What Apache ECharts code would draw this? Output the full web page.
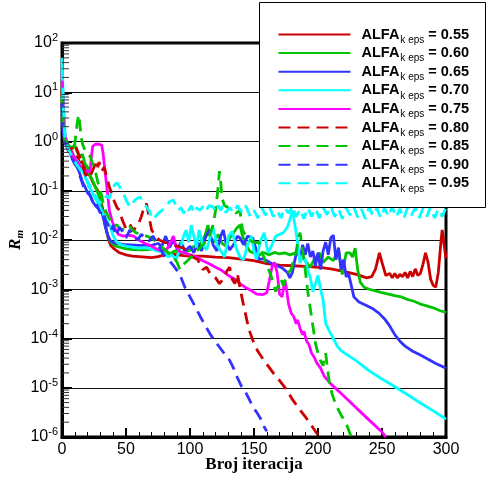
<!DOCTYPE html>
<html><head><meta charset="utf-8">
<script src="https://cdn.jsdelivr.net/npm/echarts@6/dist/echarts.min.js"></script>
<style>html,body{margin:0;padding:0;background:#fff}#c{width:487px;height:477px}</style>
</head><body><div id="c"></div>
<script>
// ---- axis/tick data ----
const xTickValues = [0, 50, 100, 150, 200, 250, 300];
const yDecadeExponents = [-6, -5, -4, -3, -2, -1, 0, 1, 2];
const minorMultipliers = [2, 3, 4, 5, 6, 7, 8, 9];
const alfaValues = ['0.55', '0.60', '0.65', '0.70', '0.75', '0.80', '0.85', '0.90', '0.95'];

// ---- series data: [iteration, R_m] ----
const s055 = [[0,10],[1,2.5],[2,1.1],[4,0.85],[6,0.7],[8,0.6],[10,0.45],[12,0.5],[14,0.35],[16,0.4],[18,0.28],[20,0.22],[22,0.2],[24,0.15],[26,0.12],[28,0.1],[30,0.07],[32,0.04],[34,0.02],[36,0.011],[38,0.0078],[41,0.0065],[45,0.0055],[50,0.005],[55,0.0047],[60,0.0046],[65,0.0045],[70,0.0044],[75,0.0046],[80,0.005],[85,0.0052],[90,0.005],[95,0.0048],[100,0.0047],[110,0.0047],[120,0.0045],[130,0.0044],[140,0.0041],[150,0.0038],[160,0.0033],[170,0.0031],[180,0.003],[190,0.0029],[200,0.0028],[210,0.0026],[220,0.0023],[230,0.002],[238,0.0017],[242,0.0018],[245,0.0026],[248,0.0055],[250,0.0035],[253,0.0019],[256,0.0021],[258,0.0017],[260,0.0021],[262,0.0017],[264,0.002],[266,0.0018],[268,0.0022],[270,0.0017],[272,0.0023],[274,0.0018],[276,0.0026],[278,0.0019],[280,0.0021],[282,0.0032],[284,0.0055],[286,0.0035],[288,0.0016],[290,0.0012],[292,0.0011],[294,0.0022],[296,0.009],[297,0.016],[298,0.01],[300,0.0042]];
const s060 = [[0,8],[1,2],[2,1.0],[4,0.9],[6,0.8],[8,0.7],[10,0.85],[12,0.6],[14,0.5],[16,0.55],[18,0.35],[20,0.3],[22,0.2],[24,0.16],[26,0.12],[28,0.09],[30,0.06],[32,0.035],[34,0.018],[36,0.012],[38,0.009],[42,0.0075],[48,0.0068],[55,0.0064],[62,0.0063],[68,0.0064],[72,0.0068],[76,0.006],[80,0.0055],[84,0.0052],[88,0.006],[92,0.0055],[96,0.0058],[100,0.0062],[103,0.0075],[106,0.0068],[109,0.009],[112,0.013],[114,0.02],[116,0.011],[119,0.009],[122,0.013],[125,0.0085],[128,0.0075],[131,0.011],[134,0.014],[137,0.018],[139,0.02],[141,0.012],[144,0.0075],[147,0.0058],[150,0.0055],[154,0.005],[158,0.0055],[162,0.005],[166,0.0056],[170,0.0052],[174,0.0055],[178,0.005],[182,0.0054],[186,0.005],[188,0.0045],[191,0.0035],[194,0.0028],[197,0.004],[201,0.0055],[204,0.0035],[208,0.0045],[212,0.0038],[216,0.0065],[219,0.002],[222,0.0055],[225,0.0055],[227,0.0045],[229,0.0068],[231,0.0025],[233,0.0014],[236,0.0011],[240,0.001],[245,0.00093],[250,0.00085],[255,0.0008],[260,0.00074],[265,0.0007],[270,0.00062],[275,0.00057],[280,0.0005],[285,0.00046],[290,0.00042],[295,0.00037],[300,0.00034]];
const s065 = [[0,6],[1,1.5],[2,1.0],[4,0.8],[6,0.6],[8,0.45],[10,0.35],[12,0.3],[14,0.22],[16,0.15],[18,0.12],[20,0.09],[22,0.08],[24,0.06],[26,0.05],[28,0.045],[30,0.05],[32,0.03],[34,0.018],[36,0.012],[38,0.0095],[42,0.0085],[50,0.008],[60,0.0078],[70,0.0078],[75,0.0085],[78,0.0075],[81,0.012],[84,0.007],[87,0.01],[90,0.0065],[93,0.009],[96,0.006],[100,0.0075],[103,0.0055],[106,0.009],[109,0.006],[112,0.011],[115,0.016],[118,0.008],[121,0.006],[124,0.012],[126,0.016],[128,0.009],[131,0.0063],[134,0.008],[137,0.012],[139,0.011],[142,0.008],[145,0.012],[149,0.011],[152,0.006],[154,0.004],[157,0.0042],[160,0.0038],[164,0.0033],[168,0.003],[172,0.0027],[176,0.0022],[178,0.0017],[180,0.0022],[182,0.004],[184,0.007],[186,0.004],[188,0.008],[190,0.005],[192,0.0085],[194,0.0045],[196,0.006],[198,0.003],[200,0.0055],[202,0.0025],[204,0.006],[206,0.009],[208,0.005],[210,0.011],[212,0.0125],[214,0.004],[216,0.007],[218,0.0025],[220,0.004],[222,0.0018],[224,0.002],[226,0.0012],[228,0.0007],[232,0.00055],[237,0.00048],[243,0.0004],[248,0.00032],[252,0.00025],[256,0.00018],[260,0.00012],[264,0.000088],[268,0.00007],[274,0.000055],[280,0.000046],[286,0.000038],[292,0.000031],[300,0.000025]];
const s070 = [[0,50],[1,8],[2,2],[3,1.1],[5,0.8],[7,0.6],[9,0.5],[12,0.4],[15,0.3],[18,0.2],[21,0.12],[23,0.1],[26,0.07],[29,0.05],[32,0.035],[35,0.025],[38,0.018],[40,0.012],[43,0.009],[46,0.008],[50,0.0075],[55,0.0072],[60,0.0068],[65,0.007],[70,0.0065],[75,0.006],[80,0.0055],[83,0.0045],[86,0.005],[89,0.004],[92,0.0063],[95,0.012],[97,0.016],[99,0.009],[101,0.02],[103,0.012],[105,0.007],[107,0.016],[110,0.008],[113,0.0063],[116,0.012],[118,0.018],[121,0.008],[124,0.006],[127,0.0045],[130,0.012],[133,0.015],[136,0.007],[139,0.0045],[142,0.004],[145,0.008],[148,0.012],[150,0.006],[152,0.004],[155,0.0095],[158,0.014],[161,0.0055],[164,0.008],[167,0.012],[170,0.013],[173,0.014],[176,0.018],[178,0.026],[180,0.04],[182,0.02],[184,0.009],[186,0.0034],[188,0.005],[190,0.004],[192,0.0025],[194,0.0017],[196,0.0009],[198,0.0013],[200,0.0019],[202,0.001],[204,0.0006],[206,0.0002],[209,0.00014],[212,0.0001],[215,0.00007],[218,0.000057],[222,0.000048],[230,0.000035],[240,0.000022],[250,0.000015],[260,0.0000105],[270,0.0000072],[280,0.0000049],[290,0.0000034],[300,0.0000023]];
const s075 = [[0,25],[1,5],[2,1.5],[4,0.9],[6,0.7],[8,0.55],[10,0.45],[12,0.38],[14,0.32],[16,0.3],[18,0.26],[20,0.24],[22,0.26],[23,0.5],[24,0.8],[26,0.88],[29,0.88],[31,0.85],[32,0.6],[33,0.35],[34,0.2],[35,0.12],[36,0.07],[37,0.04],[39,0.025],[41,0.018],[44,0.013],[48,0.012],[52,0.0125],[56,0.012],[60,0.01],[65,0.0085],[70,0.0075],[74,0.0065],[78,0.006],[82,0.0065],[85,0.009],[87,0.012],[89,0.0075],[92,0.0058],[96,0.0055],[100,0.005],[105,0.0045],[110,0.0038],[115,0.0033],[120,0.0028],[125,0.0024],[130,0.0019],[135,0.0016],[139,0.0013],[143,0.0011],[147,0.00097],[152,0.0008],[157,0.00078],[160,0.00085],[162,0.0015],[164,0.0028],[166,0.0035],[168,0.0022],[170,0.0008],[172,0.0007],[174,0.0015],[175,0.0012],[177,0.0005],[179,0.00033],[181,0.00028],[183,0.0002],[184,0.00024],[186,0.00016],[188,0.00012],[189,0.00014],[191,0.00009],[193,0.000075],[195,0.00005],[197,0.000042],[199,0.000032],[202,0.000025],[205,0.000017],[210,0.000012],[220,0.0000069],[230,0.0000039],[240,0.0000022],[250,0.00000126],[253,0.000001]];
const s080 = [[0,12],[1,2.5],[2,1.1],[4,0.8],[6,0.65],[8,0.75],[10,0.9],[11,0.85],[13,0.55],[14,0.6],[16,0.35],[18,0.22],[20,0.18],[22,0.2],[24,0.26],[26,0.35],[27,0.42],[28,0.3],[29,0.38],[31,0.25],[33,0.3],[35,0.19],[37,0.12],[39,0.085],[41,0.06],[43,0.045],[45,0.04],[47,0.026],[50,0.017],[53,0.021],[56,0.015],[58,0.02],[60,0.022],[62,0.03],[64,0.045],[66,0.055],[68,0.03],[70,0.016],[73,0.012],[76,0.01],[80,0.009],[85,0.0085],[90,0.0075],[95,0.0068],[99,0.0055],[102,0.0045],[106,0.004],[110,0.0025],[113,0.0028],[116,0.002],[120,0.0017],[123,0.0013],[126,0.0016],[129,0.0024],[131,0.0028],[133,0.0016],[135,0.0013],[137,0.0021],[139,0.0011],[141,0.0006],[143,0.00035],[145,0.0002],[147,0.00013],[150,0.00008],[153,0.000055],[156,0.000042],[160,0.00003],[165,0.00002],[170,0.000014],[175,0.0000095],[180,0.0000058],[185,0.0000038],[190,0.0000026],[195,0.0000017],[200,0.0000011]];
const s085 = [[0,8],[1,2],[2,1.1],[4,0.9],[6,0.8],[8,0.7],[10,0.9],[11,1.5],[12,2.5],[13,3.5],[14,2.2],[15,1.2],[16,0.9],[18,0.65],[20,0.55],[22,0.5],[24,0.35],[26,0.25],[28,0.15],[30,0.1],[32,0.06],[34,0.04],[36,0.03],[38,0.025],[40,0.02],[43,0.02],[46,0.016],[49,0.017],[52,0.02],[55,0.016],[58,0.014],[62,0.013],[66,0.012],[70,0.011],[74,0.009],[78,0.0072],[82,0.0058],[86,0.005],[90,0.0035],[92,0.0025],[95,0.0032],[98,0.0038],[101,0.0045],[104,0.0055],[108,0.007],[112,0.009],[115,0.012],[118,0.02],[120,0.04],[122,0.12],[123,0.25],[124,0.15],[125,0.07],[127,0.05],[130,0.045],[133,0.04],[136,0.035],[139,0.04],[141,0.016],[143,0.013],[146,0.01],[150,0.009],[154,0.0088],[157,0.005],[160,0.003],[163,0.002],[165,0.0013],[167,0.0009],[169,0.0012],[171,0.0016],[173,0.0012],[175,0.0017],[177,0.0022],[179,0.0025],[181,0.004],[183,0.006],[185,0.012],[186,0.014],[188,0.006],[190,0.0025],[192,0.0009],[194,0.0004],[196,0.00018],[198,0.00008],[200,0.00005],[202,0.000035],[204,0.000028],[205,0.000045],[206,0.00005],[207,0.00003],[209,0.000012],[211,0.0000075],[214,0.0000045],[218,0.0000028],[222,0.0000019],[226,0.000001]];
const s090 = [[0,6],[1,1.5],[2,1.0],[4,0.75],[6,0.55],[8,0.45],[10,0.35],[12,0.3],[14,0.2],[16,0.14],[18,0.1],[20,0.1],[22,0.08],[24,0.06],[26,0.065],[28,0.045],[30,0.035],[32,0.04],[34,0.025],[36,0.02],[38,0.015],[40,0.02],[42,0.012],[45,0.018],[48,0.014],[50,0.011],[53,0.016],[56,0.012],[59,0.01],[62,0.013],[65,0.011],[68,0.0095],[71,0.012],[74,0.009],[77,0.0065],[80,0.0048],[84,0.0038],[88,0.0028],[92,0.002],[96,0.0011],[100,0.0007],[104,0.00045],[108,0.00028],[112,0.00018],[116,0.00012],[120,0.000085],[124,0.000062],[128,0.000045],[131,0.000036],[134,0.000025],[137,0.000016],[140,0.000011],[143,0.0000085],[146,0.000006],[149,0.0000042],[152,0.0000032],[155,0.0000024],[158,0.0000016],[160,0.0000013]];
const s095 = [[0,30],[1,5],[2,1.5],[3,1.0],[5,0.7],[7,0.55],[9,0.45],[11,0.35],[13,0.3],[15,0.25],[17,0.2],[19,0.17],[21,0.14],[23,0.11],[25,0.09],[27,0.07],[29,0.06],[31,0.055],[33,0.065],[35,0.08],[37,0.07],[39,0.1],[41,0.13],[43,0.145],[45,0.12],[48,0.09],[50,0.065],[53,0.047],[55,0.055],[57,0.065],[59,0.07],[61,0.075],[63,0.06],[66,0.047],[68,0.04],[71,0.026],[73,0.03],[76,0.036],[78,0.04],[81,0.047],[84,0.06],[87,0.065],[89,0.05],[91,0.04],[93,0.045],[95,0.035],[97,0.047],[99,0.04],[101,0.05],[103,0.035],[105,0.045],[108,0.04],[110,0.048],[112,0.038],[115,0.05],[118,0.047],[120,0.038],[122,0.05],[124,0.04],[126,0.052],[128,0.036],[131,0.045],[134,0.036],[137,0.05],[140,0.038],[142,0.052],[144,0.047],[147,0.03],[150,0.04],[153,0.028],[156,0.045],[159,0.032],[162,0.047],[165,0.03],[168,0.04],[171,0.028],[174,0.045],[177,0.035],[180,0.05],[183,0.03],[186,0.042],[189,0.027],[192,0.045],[195,0.03],[198,0.044],[201,0.028],[204,0.046],[207,0.033],[210,0.048],[213,0.03],[216,0.043],[219,0.027],[222,0.045],[225,0.032],[228,0.047],[231,0.029],[234,0.042],[237,0.027],[240,0.046],[243,0.031],[246,0.044],[249,0.028],[252,0.045],[255,0.03],[258,0.047],[261,0.029],[264,0.043],[267,0.027],[270,0.046],[273,0.032],[276,0.045],[279,0.028],[282,0.044],[285,0.03],[288,0.047],[291,0.028],[294,0.043],[297,0.03],[300,0.045]];

const seriesData = [s055, s060, s065, s070, s075, s080, s085, s090, s095];
const seriesNames = alfaValues.map(v => 'ALFA_k eps = ' + v);

// ---- styles ----
const colors = ['#cc0000', '#00c400', '#3333ff', '#00ffff', '#ff00ff', '#cc0000', '#00c400', '#3333ff', '#00ffff'];
const dashed = [false, false, false, false, false, true, true, true, true];

const FONT = '"Liberation Sans", Arial, sans-serif';
const SERIF = '"Liberation Serif", "Times New Roman", serif';

const minorTickData = [];
yDecadeExponents.slice(0, -1).forEach(e => minorMultipliers.forEach(m => minorTickData.push([0, m * Math.pow(10, e)])));

const lineSeries = seriesData.map((d, i) => ({
  type: 'line', name: seriesNames[i], data: d,
  symbol: 'none', showSymbol: false, smooth: false,
  lineStyle: { color: colors[i], width: 2.8, type: dashed[i] ? [12, 7] : 'solid' },
  itemStyle: { color: colors[i] },
  z: 2
}));

const chart = echarts.init(document.getElementById('c'), null, { renderer: 'canvas' });
chart.setOption({
  animation: false,
  backgroundColor: '#fff',
  grid: { left: 62, right: 41, top: 43, bottom: 40, show: true, borderColor: '#000', borderWidth: 3, backgroundColor: 'transparent', outerBoundsMode: 'none' },
  xAxis: {
    type: 'value', min: 0, max: 300, interval: 50,
    name: 'Broj iteracija', nameLocation: 'middle', nameGap: 19, nameMoveOverlap: false,
    nameTextStyle: { fontFamily: SERIF, fontWeight: 'bold', fontSize: 17, color: '#000' },
    axisLine: { show: true, lineStyle: { color: '#000', width: 3 } },
    axisTick: { show: true, inside: true, length: 9, lineStyle: { color: '#000', width: 2 } },
    minorTick: { show: true, splitNumber: 5, length: 5, lineStyle: { color: '#000', width: 1 } },
    axisLabel: { fontFamily: FONT, fontSize: 16, color: '#000', margin: 5,
      customValues: xTickValues },
    splitLine: { show: false }
  },
  yAxis: {
    type: 'log', logBase: 10, min: 1e-6, max: 1e2, interval: 1,
    name: '{r|R}{m|m}', nameLocation: 'middle', nameGap: 37, nameRotate: 90, nameMoveOverlap: false,
    nameTextStyle: { rich: {
      r: { fontFamily: SERIF, fontWeight: 'bold', fontStyle: 'italic', fontSize: 17, color: '#000', lineHeight: 18 },
      m: { fontFamily: SERIF, fontWeight: 'bold', fontStyle: 'italic', fontSize: 11, color: '#000', lineHeight: 18, padding: [8, 0, 0, 0] }
    } },
    axisLine: { show: true, lineStyle: { color: '#000', width: 3 } },
    axisTick: { show: true, inside: true, length: 10, lineStyle: { color: '#000', width: 2 } },
    axisLabel: {
      margin: 4,
      formatter: v => '{b|10}{s|' + Math.round(Math.log10(v)) + '}',
      rich: {
        b: { fontFamily: FONT, fontSize: 16, color: '#000', lineHeight: 18 },
        s: { fontFamily: FONT, fontSize: 11, color: '#000', lineHeight: 18, padding: [0, 0, 10, 0] }
      }
    },
    splitLine: { show: true, lineStyle: { color: '#111', width: 1 } }
  },
  legend: {
    data: seriesNames, orient: 'vertical', left: 277.5, top: 24,
    itemWidth: 72, itemHeight: 14, itemGap: -2.4, padding: 0,
    selectedMode: false, z: 10,
    itemStyle: { opacity: 0 },
    formatter: name => '{a|ALFA}{s|k eps}{b|' + name.split('k eps')[1] + '}',
    textStyle: { rich: {
      a: { fontFamily: FONT, fontWeight: 'bold', fontSize: 14.5, color: '#000', lineHeight: 18, padding: [0, 0, 0, 6] },
      s: { fontFamily: FONT, fontSize: 10, color: '#000', lineHeight: 18, padding: [11, 0, 0, 1] },
      b: { fontFamily: FONT, fontWeight: 'bold', fontSize: 14.5, color: '#000', lineHeight: 18 }
    } }
  },
  graphic: { elements: [
    { type: 'rect', z: 5, shape: { x: 259.5, y: 2.5, width: 226, height: 205 },
      style: { fill: '#fff', stroke: '#000', lineWidth: 1 } }
  ] },
  series: lineSeries.concat([{
    type: 'custom', name: 'minor ticks', silent: true, z: 3, clip: false,
    data: minorTickData,
    renderItem: (params, api) => {
      const p = api.coord([0, api.value(1)]);
      return { type: 'line', shape: { x1: p[0], y1: p[1], x2: p[0] + 7, y2: p[1] },
        style: { stroke: '#333', lineWidth: 1 } };
    }
  }])
});
</script></body></html>
